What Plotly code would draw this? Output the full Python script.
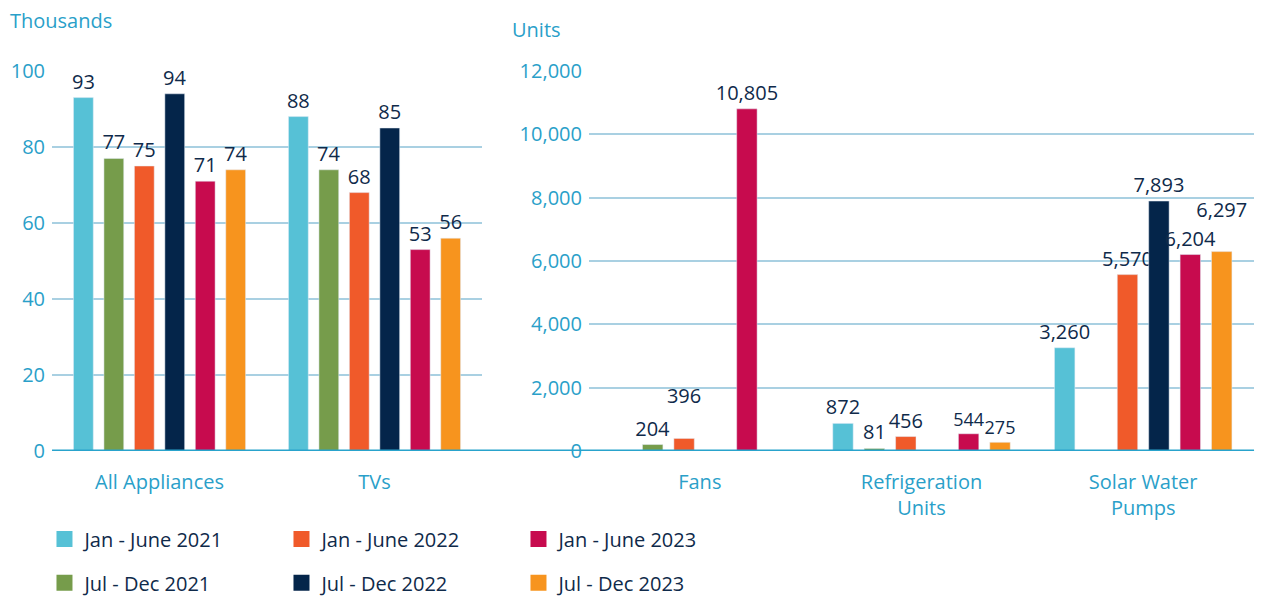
import plotly.graph_objects as go

# categories
left_cats = ["All Appliances", "TVs"]
right_cats = ["Fans", "Refrigeration<br>Units", "Solar Water<br>Pumps"]

periods = ["Jan - June 2021", "Jul - Dec 2021", "Jan - June 2022",
           "Jul - Dec 2022", "Jan - June 2023", "Jul - Dec 2023"]

# thousands (left panel)
jan_jun_2021_k = [93, 88]
jul_dec_2021_k = [77, 74]
jan_jun_2022_k = [75, 68]
jul_dec_2022_k = [94, 85]
jan_jun_2023_k = [71, 53]
jul_dec_2023_k = [74, 56]

# units (right panel)
jan_jun_2021_u = [None, 872, 3260]
jul_dec_2021_u = [204, 81, None]
jan_jun_2022_u = [396, 456, 5570]
jul_dec_2022_u = [None, None, 7893]
jan_jun_2023_u = [10805, 544, 6204]
jul_dec_2023_u = [None, 275, 6297]

colors = ["#56c1d6", "#769c4b", "#f05a2a", "#04254a", "#c70b4e", "#f7941e"]

left_series = [jan_jun_2021_k, jul_dec_2021_k, jan_jun_2022_k,
               jul_dec_2022_k, jan_jun_2023_k, jul_dec_2023_k]
right_series = [jan_jun_2021_u, jul_dec_2021_u, jan_jun_2022_u,
                jul_dec_2022_u, jan_jun_2023_u, jul_dec_2023_u]

# value labels; a couple lifted so neighbours don't collide (as in the source)
NB = "\u00a0"
right_text = [["" if v is None else f"{v:,}" for v in s] for s in right_series]
right_text[2][0] += "<br>" + NB          # 396 sits above 204
right_text[5][2] += "<br>" + NB          # 6,297 sits above 6,204
right_size = [[20] * len(right_cats) for _ in periods]
right_size[4][1] = right_size[5][1] = 18  # 544 / 275 side by side

FONT = "Open Sans"
NAVY = "#0f2a4a"
BLUE = "#2a9fc9"
GRID = "#a9d0e2"

fig = go.Figure()

for i, name in enumerate(periods):
    fig.add_trace(go.Bar(
        x=left_cats, y=left_series[i], name=name,
        marker_color=colors[i], showlegend=False,
        texttemplate="%{y}", textposition="outside",
        constraintext="none", cliponaxis=False,
        textfont=dict(color=NAVY, size=20, family=FONT),
        xaxis="x", yaxis="y"))
    fig.add_trace(go.Bar(
        x=right_cats, y=right_series[i], name=name,
        marker_color=colors[i], showlegend=False,
        text=right_text[i], textposition="outside",
        constraintext="none", cliponaxis=False,
        textfont=dict(color=NAVY, size=right_size[i], family=FONT),
        xaxis="x2", yaxis="y2"))

# legend proxies (bigger square swatches than bar legend icons)
for i, name in enumerate(periods):
    fig.add_trace(go.Scatter(
        x=[None], y=[None], mode="markers", name=name,
        marker=dict(symbol="square", size=16, color=colors[i]),
        legend="legend" if i % 2 == 0 else "legend2",
        xaxis="x", yaxis="y"))

axis_x = dict(showgrid=False, zeroline=False, showline=False,
              tickfont=dict(color=BLUE, size=20, family=FONT),
              ticks="", ticklabelstandoff=17)
axis_y = dict(showgrid=True, gridcolor=GRID, gridwidth=1.5, zeroline=False,
              showline=False, tickfont=dict(color=BLUE, size=20, family=FONT),
              ticks="", ticklabelstandoff=6)

leg = dict(orientation="h", xanchor="left", yanchor="middle",
           entrywidth=192, entrywidthmode="pixels",
           font=dict(color=NAVY, size=20, family=FONT),
           bgcolor="rgba(0,0,0,0)", itemclick=False)

fig.update_layout(
    width=1258, height=591,
    margin=dict(l=0, r=0, t=63, b=148, autoexpand=False),
    paper_bgcolor="white", plot_bgcolor="white",
    barmode="group", bargap=0.15, bargroupgap=0.35,
    font=dict(family=FONT, color=NAVY),
    xaxis=dict(axis_x, domain=[0.035, 0.3768], anchor="y"),
    yaxis=dict(axis_y, range=[0, 100], dtick=20, anchor="x"),
    xaxis2=dict(axis_x, domain=[0.4618, 0.9905], anchor="y2"),
    yaxis2=dict(axis_y, range=[0, 12000], dtick=2000, tickformat=",", anchor="x2"),
    legend=dict(leg, x=0.029, y=-0.2316),
    legend2=dict(leg, x=0.029, y=-0.347),
    shapes=[dict(type="line", xref="paper", yref="y", x0=0.035, x1=0.9905,
                 y0=0, y1=0, line=dict(color="#29a3cc", width=3), layer="above")],
    annotations=[
        dict(text="Thousands", xref="paper", yref="paper", x=0.0, y=1.1316,
             xanchor="left", yanchor="middle", showarrow=False,
             font=dict(color=BLUE, size=20, family=FONT)),
        dict(text="Units", xref="paper", yref="paper", x=0.399, y=1.108,
             xanchor="left", yanchor="middle", showarrow=False,
             font=dict(color=BLUE, size=20, family=FONT)),
    ],
)

fig.write_html("out.html")
